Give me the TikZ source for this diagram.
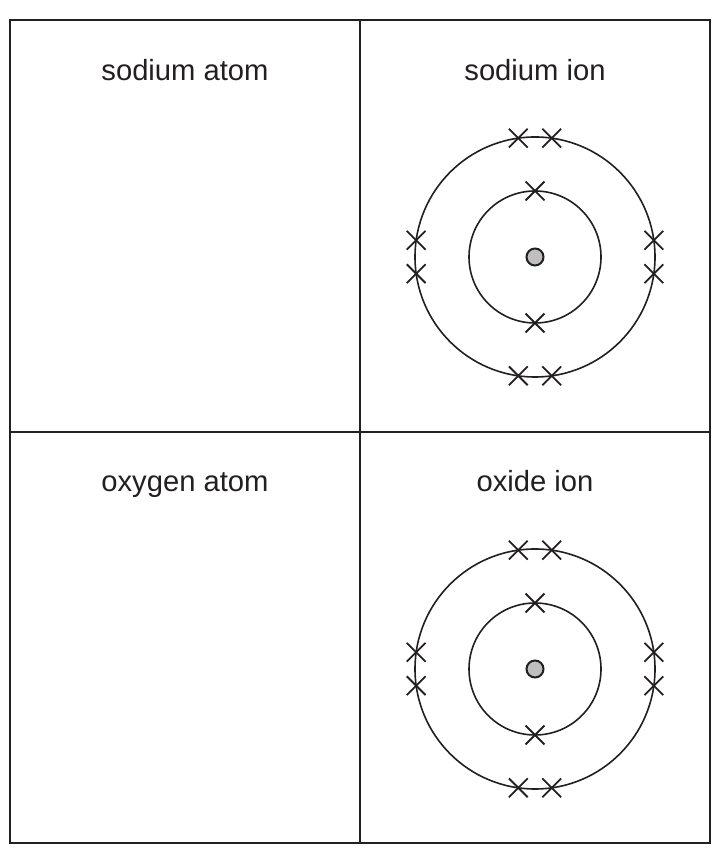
\documentclass[tikz,border=0pt]{standalone}
\usepackage{fontspec}
\setmainfont{Liberation Sans}
\usetikzlibrary{shapes.misc}
\definecolor{ink}{RGB}{35,31,32}
\tikzset{
  frame/.style={line width=1.2pt,draw=ink},
  shell/.style={line width=0.8pt,draw=ink},
  elec/.style={cross out,draw=ink,minimum size=8.5pt,inner sep=0pt,line width=0.9pt}, % electron x
  nucl/.style={circle,draw=ink,fill=black!25,minimum size=8.5pt,inner sep=0pt,line width=1pt},
  lbl/.style={font=\fontsize{14.6}{17}\selectfont,text=ink,anchor=base},
}
\begin{document}
\begin{tikzpicture}[x=0.5pt,y=0.5pt]
  \useasboundingbox (0,0) rectangle (715,855);
  % the four boxes
  \draw[frame] (10,12) rectangle (710,835);
  \draw[frame] (360,12) -- (360,835);
  \draw[frame] (10,423) -- (710,423);
  \node[lbl] (naatom) at (185,774) {sodium atom};
  \node[lbl] (naion)  at (535,774) {sodium ion};
  \node[lbl] (oatom)  at (185,363) {oxygen atom};
  \node[lbl] (oion)   at (535,363) {oxide ion};
  % both ions have the same 2,8 arrangement
  \foreach \cy/\nm in {598/na,186/ox}{
    \begin{scope}[shift={(535,\cy)}]
      \draw[shell] (0,0) circle (66);
      \draw[shell] (0,0) circle (120);
      \node[nucl] (\nm-nuc) at (0,0) {};
      \foreach \a in {90,270}
        \node[elec] (\nm-in\a) at (\a:66) {};
      \foreach \a in {0,90,180,270}{
        \node[elec] (\nm-outa\a) at (\a-8:120) {};
        \node[elec] (\nm-outb\a) at (\a+8:120) {};
      }
    \end{scope}
  }
\end{tikzpicture}
\end{document}
